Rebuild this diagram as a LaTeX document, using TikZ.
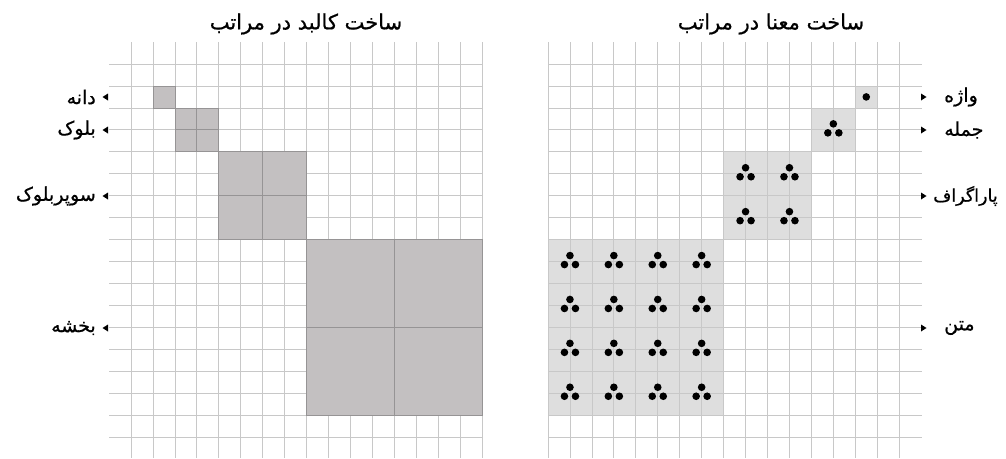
\documentclass[tikz,border=0pt]{standalone}
\usepackage{fontspec}
\newfontfamily\fa[Script=Arabic,FakeBold=0.7]{DejaVu Sans}
\TeXXeTstate=1
\definecolor{gridc}{RGB}{200,200,200}
\definecolor{lgray}{RGB}{195,192,193}
\definecolor{lgrayline}{RGB}{150,148,149}
\definecolor{rgray}{RGB}{222,222,222}
\tikzset{
  gridline/.style={draw=gridc, line width=0.8pt},
  blockL/.style={fill=lgray, draw=lgrayline, line width=0.8pt},
  blockR/.style={fill=rgray},
  midline/.style={draw=lgrayline, line width=0.8pt},
  title/.style={font=\fa\fontsize{21}{24}\selectfont, inner sep=0pt},
  lbl/.style={font=\fa\fontsize{19}{22}\selectfont, inner sep=0pt},
  tri/.style={fill=black},
  dot/.style={fill=black}
}
\newcommand{\cl}{21.95}
\newcommand{\cluster}[2]{%
  \fill[dot] (#1,#2-6) circle (3.8);
  \fill[dot] (#1-5.5,#2+3) circle (3.8);
  \fill[dot] (#1+5.5,#2+3) circle (3.8);}
\begin{document}
\begin{tikzpicture}[x=1pt,y=-1pt]
\useasboundingbox (0,0) rectangle (1006,458);
% ---------- left grid ----------
\foreach \k in {0,...,16} \draw[gridline] ({131+\k*\cl},42) -- ({131+\k*\cl},458);
\foreach \k in {0,...,17} \draw[gridline] (109,{64+\k*\cl}) -- (482,{64+\k*\cl});
% left blocks (col, row, size)
\draw[blockL] ({131+1*\cl},{64+1*\cl}) rectangle ({131+2*\cl},{64+2*\cl});
\foreach \c/\r/\s in {2/2/2, 4/4/4, 8/8/8} {
  \draw[blockL] ({131+\c*\cl},{64+\r*\cl}) rectangle ({131+(\c+\s)*\cl},{64+(\r+\s)*\cl});
  \draw[midline] ({131+(\c+\s/2)*\cl},{64+\r*\cl}) -- ({131+(\c+\s/2)*\cl},{64+(\r+\s)*\cl});
  \draw[midline] ({131+\c*\cl},{64+(\r+\s/2)*\cl}) -- ({131+(\c+\s)*\cl},{64+(\r+\s/2)*\cl});
}
% ---------- right grid ----------
\foreach \c/\r/\s in {14/1/1, 12/2/2, 8/4/4, 0/8/8}
  \fill[blockR] ({548+\c*\cl},{64+\r*\cl}) rectangle ({548+(\c+\s)*\cl},{64+(\r+\s)*\cl});
\foreach \k in {0,...,16} \draw[gridline] ({548+\k*\cl},42) -- ({548+\k*\cl},458);
\foreach \k in {0,...,17} \draw[gridline] (548,{64+\k*\cl}) -- (922,{64+\k*\cl});
% dots
\fill[dot] ({548+14.5*\cl},{64+1.5*\cl}) circle (3.8);
\cluster{548+13*\cl}{64+3*\cl}
\foreach \i in {9,11} \foreach \j in {5,7} {\cluster{548+\i*\cl}{64+\j*\cl}}
\foreach \i in {1,3,5,7} \foreach \j in {9,11,13,15} {\cluster{548+\i*\cl}{64+\j*\cl}}
% ---------- titles ----------
\node[title] (tL) at (306,24) {\beginR ساخت کالبد در مراتب\endR};
\node[title] (tR) at (771,24) {\beginR ساخت معنا در مراتب\endR};
% ---------- left labels ----------
\node[lbl, anchor=east] (l1) at (96,97) {\beginR دانه\endR};
\node[lbl, anchor=east] (l2) at (96,130) {\beginR بلوک\endR};
\node[lbl, anchor=east] (l3) at (96,196) {\beginR سوپربلوک\endR};
\node[lbl, anchor=east] (l4) at (96,328) {\beginR بخشه\endR};
\foreach \y in {97,130,196,328} \fill[tri] (108,\y-3.5) -- (108,\y+3.5) -- (102.5,\y) -- cycle;
% ---------- right labels ----------
\node[lbl, anchor=west] (r1) at (944,97) {\beginR واژه\endR};
\node[lbl, anchor=west] (r2) at (944,130) {\beginR جمله\endR};
\node[lbl, anchor=west, font=\fa\fontsize{17.5}{21}\selectfont] (r3) at (933,196) {\beginR پاراگراف\endR};
\node[lbl, anchor=west] (r4) at (944,328) {\beginR متن\endR};
\foreach \y in {97,130,196,328} \fill[tri] (921,\y-3.5) -- (921,\y+3.5) -- (926.5,\y) -- cycle;
\end{tikzpicture}
\end{document}
